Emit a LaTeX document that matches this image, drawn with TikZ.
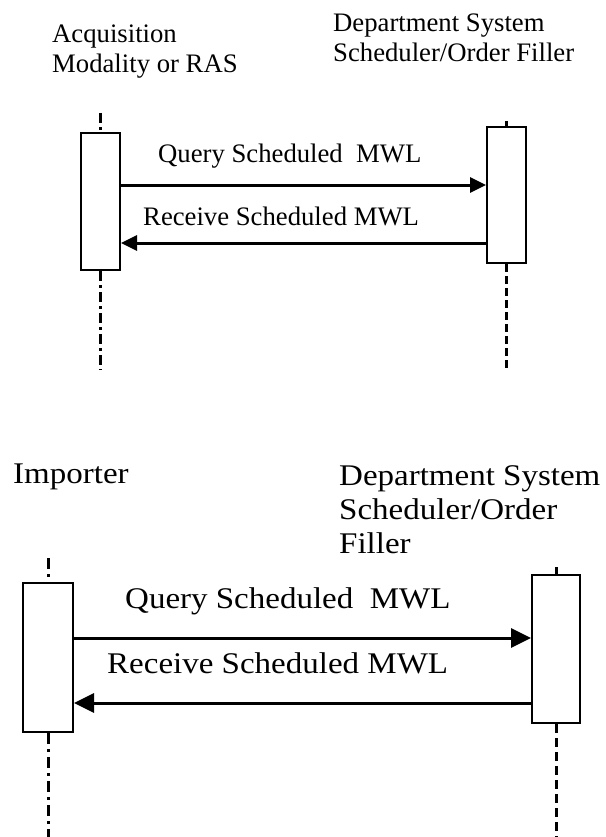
\documentclass[tikz,border=0pt]{standalone}
\usepackage{fontspec}
\setmainfont{Liberation Serif}
\newfontfamily\widefont{Liberation Serif}[FakeStretch=1.1]
\usetikzlibrary{arrows.meta}
\begin{document}
\begin{tikzpicture}[x=1pt,y=-1pt,
  topfont/.style={font=\fontsize{26.7}{30}\selectfont},
  botfont/.style={font=\widefont\fontsize{30}{34}\selectfont},
  lbl/.style={inner sep=0pt, anchor=base west},
  head/.style={inner sep=0pt, anchor=base west, align=left},
  actbox/.style={draw, line width=2pt, fill=white, inner sep=0pt},
  msgA/.style={line width=3pt, -{Triangle[length=16pt,width=15pt]}},
  msgB/.style={line width=3pt, -{Triangle[length=20pt,width=19pt]}},
  ddA/.style={line width=3pt, dash pattern=on 10pt off 4pt on 3pt off 4pt},
  ddB/.style={line width=3pt, dash pattern=on 11pt off 5pt on 3pt off 5pt},
  dsA/.style={line width=3pt, dash pattern=on 8pt off 4pt},
  dsB/.style={line width=3pt, dash pattern=on 9pt off 5pt}]
\useasboundingbox (0,0) rectangle (605,837);

% ---------- top diagram ----------
\node[head, topfont] (h1) at (52,73) {Acquisition\\Modality or RAS};
\node[head, topfont] (h2) at (333,62) {Department System\\Scheduler/Order Filler};

\coordinate (t1top) at (100.5,113);
\coordinate (t1bot) at (100.5,370);
\coordinate (t2top) at (506.5,121);
\coordinate (t2bot) at (506.5,368);
\node[actbox, minimum width=39pt, minimum height=137pt] (b1) at (100.5,201.5) {};
\node[actbox, minimum width=39pt, minimum height=136pt] (b2) at (506.5,195) {};
\draw[ddA] (t1top) -- (b1.north);
\draw[ddA] (b1.south) -- (t1bot);
\draw[dsA] (t2top) -- (b2.north);
\draw[dsA] (b2.south) -- (t2bot);
\node[actbox, minimum width=39pt, minimum height=137pt] at (b1) {};
\node[actbox, minimum width=39pt, minimum height=136pt] at (b2) {};

\coordinate (q1) at (0,185);
\coordinate (r1) at (0,243);
\draw[msgA] (b1.east |- q1) -- (b2.west |- q1);
\draw[msgA] (b2.west |- r1) -- (b1.east |- r1);
\node[lbl, topfont] (lq1) at (158,163) {Query Scheduled\ \ MWL};
\node[lbl, topfont] (lr1) at (143,225) {Receive Scheduled MWL};

% ---------- bottom diagram ----------
\node[head, botfont] (h3) at (13,483) {Importer};
\node[head, botfont] (h4) at (339,553) {Department System\\Scheduler/Order\\Filler};

\coordinate (u1top) at (48,558);
\coordinate (u1bot) at (48,840);
\coordinate (u2top) at (556,567);
\coordinate (u2bot) at (556,840);
\node[actbox, minimum width=50pt, minimum height=149pt] (b3) at (48,657.5) {};
\node[actbox, minimum width=48pt, minimum height=148pt] (b4) at (556,649) {};
\draw[ddB] (u1top) -- (b3.north);
\draw[ddB] (b3.south) -- (u1bot);
\draw[dsB] (u2top) -- (b4.north);
\draw[dsB] (b4.south) -- (u2bot);
\node[actbox, minimum width=50pt, minimum height=149pt] at (b3) {};
\node[actbox, minimum width=48pt, minimum height=148pt] at (b4) {};

\coordinate (q2) at (0,638);
\coordinate (r2) at (0,703);
\draw[msgB] (b3.east |- q2) -- (b4.west |- q2);
\draw[msgB] (b4.west |- r2) -- (b3.east |- r2);
\node[lbl, botfont] (lq2) at (125,608) {Query Scheduled\ \ MWL};
\node[lbl, botfont] (lr2) at (107,673) {Receive Scheduled MWL};
\end{tikzpicture}
\end{document}
